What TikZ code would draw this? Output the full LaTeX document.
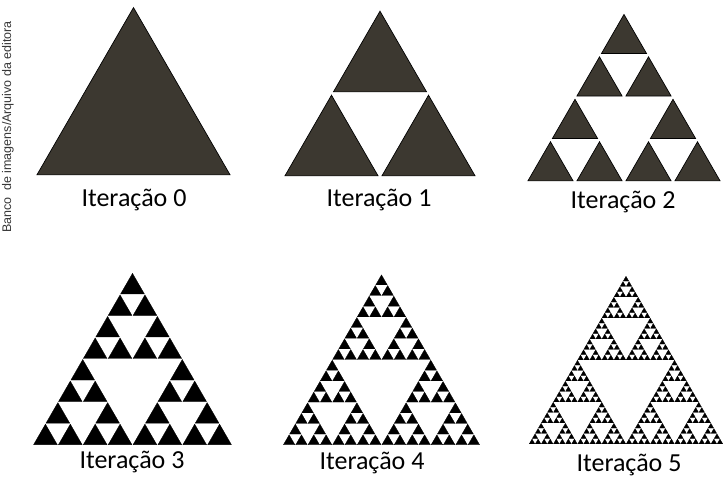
\documentclass[tikz,border=0pt]{standalone}
\usepackage{fontspec}
\setmainfont{Carlito}
\newfontfamily\creditfont{Liberation Sans}
\usetikzlibrary{positioning}
\definecolor{fundoTri}{RGB}{60,56,48}
\definecolor{cinzaCredito}{RGB}{55,55,55}

% recursive Sierpinski: level, x, y (lower left corner), side
\newcommand\sierp[4]{%
  \ifnum#1=0\relax
    \pgfmathsetmacro\sx{#2+1.732*\gap}%
    \pgfmathsetmacro\sy{#3+\gap}%
    \pgfmathsetmacro\ss{#4-3.464*\gap}%
    \filldraw[leaf] (\sx,\sy) -- ++(\ss,0) -- ++(-\ss/2,\ss*0.866) -- cycle;
  \else
    \begingroup
    \pgfmathtruncatemacro\lvl{#1-1}%
    \pgfmathsetmacro\hs{#4/2}%
    \pgfmathsetmacro\xb{#2+\hs}%
    \pgfmathsetmacro\xc{#2+\hs/2}%
    \pgfmathsetmacro\yc{#3+\hs*0.866}%
    \edef\next{\noexpand\sierp{\lvl}{#2}{#3}{\hs}%
      \noexpand\sierp{\lvl}{\xb}{#3}{\hs}%
      \noexpand\sierp{\lvl}{\xc}{\yc}{\hs}}%
    \next
    \endgroup
  \fi}

\begin{document}
\begin{tikzpicture}[
    x=1pt, y=1pt,
    leaf/.style={draw=black, fill=fundoTri, line width=0.7pt, line join=miter},
    rotulo/.style={font=\fontsize{26}{28}\selectfont, inner sep=0pt}
]
\useasboundingbox (0,0) rectangle (724,479);

% Top row (gray triangles)
\def\gap{1.1}
\sierp{0}{35}{303}{197}
\sierp{1}{283}{302}{194}
\sierp{2}{526}{297}{196}

% Bottom row (black triangles)
\begin{scope}[leaf/.style={fill=black, draw=black, line width=0.3pt, line join=miter}]
\def\gap{0.35}
\sierp{3}{33}{34}{199}
\def\gap{0.25}
\sierp{4}{283}{34}{197}
\def\gap{0.18}
\sierp{5}{529}{35}{194}
\end{scope}

% Labels
\node[rotulo] (it0) at (134,279) {Iteração 0};
\node[rotulo] (it1) at (379,279) {Iteração 1};
\node[rotulo] (it2) at (623,277) {Iteração 2};
\node[rotulo] (it3) at (132,17) {Iteração 3};
\node[rotulo] (it4) at (372,16) {Iteração 4};
\node[rotulo] (it5) at (629,14) {Iteração 5};

% Credit
\node[rotate=90, font=\creditfont\fontsize{12.5}{14}\selectfont, text=cinzaCredito, inner sep=0pt] (credito) at (8,352) {Banco\ \ de imagens/Arquivo da editora};
\end{tikzpicture}
\end{document}
